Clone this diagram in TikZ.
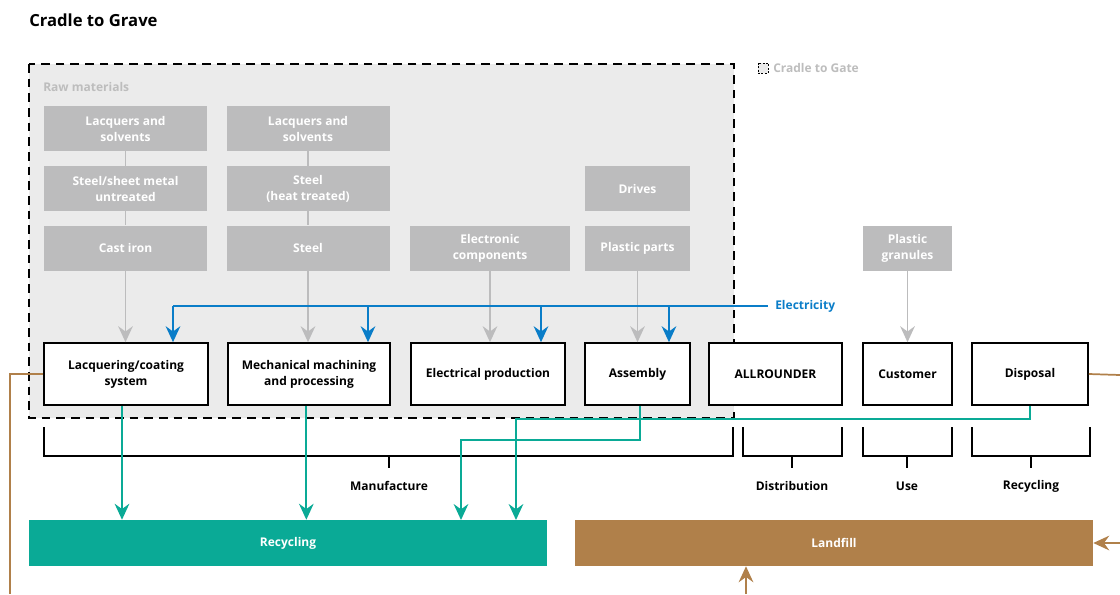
\documentclass[tikz,border=0pt]{standalone}
\usepackage{fontspec}
\setmainfont{Open Sans}
\usetikzlibrary{arrows.meta, positioning}
\definecolor{rawgray}{HTML}{BCBCBD}
\definecolor{areagray}{HTML}{EBEBEB}
\definecolor{labelgray}{HTML}{BDBDBD}
\definecolor{elecblue}{HTML}{0A7DC8}
\definecolor{recteal}{HTML}{0AAA96}
\definecolor{landbrown}{HTML}{B0804A}
\newcommand{\boxfont}{\bfseries\fontsize{9}{12}\selectfont}
\tikzset{%
	raw box/.style={
		fill=rawgray,
		text=white,
		font=\boxfont,
		align=center,
		inner sep=0pt,
		minimum height=33.75pt
	},
	process box/.style={
		draw,
		fill=white,
		line width=1.2pt,
		font=\boxfont,
		align=center,
		inner sep=0pt,
		minimum height=46.5pt
	},
	bar/.style={
		text=white,
		font=\boxfont,
		inner sep=0pt,
		minimum width=388.5pt,
		minimum height=34.5pt
	},
	phase/.style={font=\boxfont, inner sep=0pt},
	bracket/.style={line width=1.2pt},
	flow/.style={line width=1.3pt, -{Stealth[length=12pt, width=11pt, inset=4pt]}},
}

\begin{document}
\begin{tikzpicture}[x=0.75pt, y=-0.75pt]
	\useasboundingbox (0,0) rectangle (1120,594);
	
	% Title
	\node[anchor=west, inner sep=0pt, font=\bfseries\fontsize{12.5}{15}\selectfont] (title) at (29,20) {Cradle to Grave};
	
	% Cradle to gate area
	\draw[fill=areagray, line width=1.3pt, dash pattern=on 6.5pt off 4.5pt] (29,64) rectangle (734,418);
	\node[anchor=west, inner sep=0pt, text=labelgray, font=\boxfont] (rawlabel) at (43,87) {Raw materials};
	\draw[fill=areagray, line width=0.6pt, dash pattern=on 1.5pt off 1pt] (758,63) rectangle (768,73);
	\node[anchor=west, inner sep=0pt, text=labelgray, font=\boxfont] (gatelabel) at (773,68) {Cradle to Gate};
	
	% Raw materials
	\node[raw box, minimum width=122.25pt] (lac1) at (125.5,128.5) {Lacquers and\\solvents};
	\node[raw box, minimum width=122.25pt] (sheet) at (125.5,188.5) {Steel/sheet metal\\untreated};
	\node[raw box, minimum width=122.25pt] (cast) at (125.5,248) {Cast iron};
	\node[raw box, minimum width=122.25pt] (lac2) at (308,128.5) {Lacquers and\\solvents};
	\node[raw box, minimum width=122.25pt] (heat) at (308,188.5) {Steel\\(heat treated)};
	\node[raw box, minimum width=122.25pt] (steel) at (308,248) {Steel};
	\node[raw box, minimum width=120pt] (ecomp) at (490,248) {Electronic\\components};
	\node[raw box, minimum width=78.75pt] (drives) at (637.5,188.5) {Drives};
	\node[raw box, minimum width=78.75pt] (pparts) at (637.5,248) {Plastic parts};
	\node[raw box, minimum width=66.75pt] (gran) at (907.5,248) {Plastic\\granules};
	
	% Process steps
	\node[process box, minimum width=123pt] (lacq) at (126,374) {Lacquering/coating\\system};
	\node[process box, minimum width=121.5pt] (mech) at (309,374) {Mechanical machining\\and processing};
	\node[process box, minimum width=115.5pt] (elec) at (488,374) {Electrical production};
	\node[process box, minimum width=78.75pt] (asm) at (637.5,374) {Assembly};
	\node[process box, minimum width=99.75pt] (allr) at (775.5,374) {ALLROUNDER};
	\node[process box, minimum width=66.75pt] (cust) at (907.5,374) {Customer};
	\node[process box, minimum width=87pt] (disp) at (1030,374) {Disposal};
	
	% End of life
	\node[bar, fill=recteal] (recyc) at (288,543) {Recycling};
	\node[bar, fill=landbrown] (landfill) at (834,543) {Landfill};
	
	% Links between raw materials
	\draw[rawgray, line width=1.3pt] (lac1) -- (sheet);
	\draw[rawgray, line width=1.3pt] (sheet) -- (cast);
	\draw[rawgray, line width=1.3pt] (lac2) -- (heat);
	\draw[rawgray, line width=1.3pt] (heat) -- (steel);
	
	% Raw materials into process steps
	\draw[flow, rawgray] (cast.south) -- (cast.south |- lacq.north);
	\draw[flow, rawgray] (steel.south) -- (steel.south |- mech.north);
	\draw[flow, rawgray] (ecomp.south) -- (ecomp.south |- elec.north);
	\draw[flow, rawgray] (pparts.south) -- (pparts.south |- asm.north);
	\draw[flow, rawgray] (gran.south) -- (gran.south |- cust.north);
	
	% Electricity supply
	\coordinate (elecL) at (173,306);
	\node[anchor=west, inner sep=0pt, text=elecblue, font=\boxfont] (power) at (775,306) {Electricity};
	\draw[elecblue, line width=1.3pt] (elecL) -- ([xshift=-5pt]power.west);
	\foreach \b/\dx in {lacq/35.25pt, mech/44.25pt, elec/39.75pt, asm/23.6pt}
		\draw[flow, elecblue] ([xshift=\dx]\b.north |- elecL) -- ([xshift=\dx]\b.north);
	
	% Phase brackets
	\draw[bracket] (44,427) |- (733,456) -- (733,427);
	\draw[bracket] (389,456) -- (389,468);
	\node[phase] (manu) at (389,486) {Manufacture};
	\draw[bracket] (743,427) |- (842,456) -- (842,427);
	\draw[bracket] (792,456) -- (792,468);
	\node[phase] (distr) at (792,486) {Distribution};
	\draw[bracket] (863,427) |- (952,456) -- (952,427);
	\draw[bracket] (907,456) -- (907,468);
	\node[phase] (use) at (907,486) {Use};
	\draw[bracket] (972,427) |- (1090,456) -- (1090,427);
	\draw[bracket] (1031,456) -- (1031,468);
	\node[phase] (recph) at (1031,486) {Recycling};
	
	% Flows to recycling
	\coordinate (r3) at (461,520);
	\coordinate (r4) at (516,520);
	\draw[flow, recteal] ([xshift=-3pt]lacq.south) -- ([xshift=-3pt]lacq.south |- recyc.north);
	\draw[flow, recteal] ([xshift=-2pt]mech.south) -- ([xshift=-2pt]mech.south |- recyc.north);
	\draw[flow, recteal] ([xshift=2pt]asm.south) -- ++(0,34) -| (r3);
	\draw[flow, recteal] (disp.south) -- ++(0,13) -| (r4);
	
	% Flows to landfill
	\coordinate (brownL) at (10,594);
	\coordinate (brownR) at (1120,375);
	\coordinate (landR) at (1120,543);
	\coordinate (landB) at (746,594);
	\draw[landbrown, line width=1.3pt] (lacq.west) -| (brownL);
	\draw[landbrown, line width=1.3pt] (disp.east) -- (brownR);
	\draw[flow, landbrown] (landR) -- (landfill.east);
	\draw[flow, landbrown] (landB) -- (landB |- landfill.south);
\end{tikzpicture}
\end{document}
